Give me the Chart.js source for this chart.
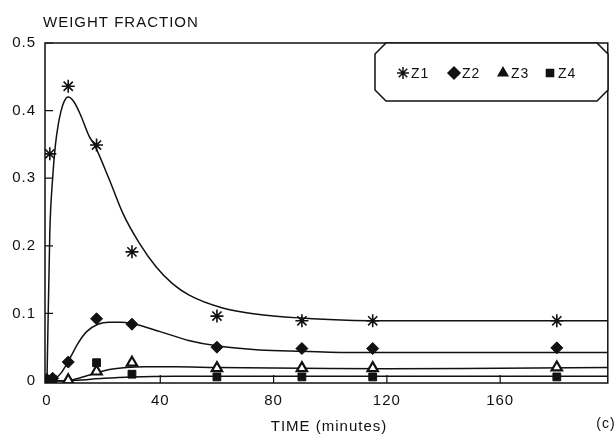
<!DOCTYPE html>
<html>
<head>
<meta charset="utf-8">
<script src="https://cdn.jsdelivr.net/npm/chart.js@4/dist/chart.umd.min.js"></script>
<style>
  html, body { margin: 0; padding: 0; background: #fff; }
  #wrap { width: 616px; height: 435px; position: relative; }
</style>
</head>
<body>
<div id="wrap"><canvas id="chart" width="616" height="435"></canvas></div>
<script>
// measured points
const SERIES = ['Z1', 'Z2', 'Z3', 'Z4']
const z1T = [1, 7.5, 17.5, 30, 60, 90, 115, 180]
const z1Y = [0.336, 0.436, 0.349, 0.191, 0.096, 0.089, 0.089, 0.089]
const z2T = [0, 2, 7.5, 17.5, 30, 60, 90, 115, 180]
const z2Y = [0.002, 0.004, 0.028, 0.092, 0.084, 0.050, 0.048, 0.048, 0.049]
const z3T = [0, 7.5, 17.5, 30, 60, 90, 115, 180]
const z3Y = [0, 0.001, 0.014, 0.027, 0.019, 0.019, 0.019, 0.020]
const z4T = [0, 2, 17.5, 30, 60, 90, 115, 180]
const z4Y = [0, 0.002, 0.027, 0.010, 0.006, 0.006, 0.006, 0.006]

// fitted curves
const fit1T = [0, 1, 2, 3, 4, 5, 6, 7.5, 9.5, 11.6, 15, 16.8, 22.1, 26.8, 32.6, 38.5, 44.3, 50.2, 62, 73.6, 90, 106, 130, 160, 198]
const fit1Y = [0, 0.22, 0.30, 0.35, 0.38, 0.40, 0.413, 0.42, 0.413, 0.396, 0.361, 0.349, 0.297, 0.248, 0.204, 0.169, 0.144, 0.127, 0.108, 0.099, 0.093, 0.09, 0.089, 0.089, 0.089]
const fit2T = [0, 3, 5, 8, 11, 14, 18, 22, 26, 30, 40, 50, 60, 75, 90, 110, 140, 198]
const fit2Y = [0, 0.004, 0.012, 0.033, 0.056, 0.073, 0.084, 0.087, 0.087, 0.085, 0.073, 0.06, 0.052, 0.046, 0.044, 0.042, 0.042, 0.042]
const fit3T = [0, 5, 8, 12, 17.5, 22, 28, 35, 45, 60, 90, 120, 160, 198]
const fit3Y = [0, 0, 0.001, 0.005, 0.012, 0.017, 0.02, 0.021, 0.021, 0.02, 0.019, 0.018, 0.019, 0.02]
const fit4T = [0, 10, 20, 30, 45, 60, 90, 120, 160, 198]
const fit4Y = [0, 0.001, 0.004, 0.006, 0.007, 0.007, 0.007, 0.007, 0.007, 0.007]

const xTicks = [0, 40, 80, 120, 160]
const yTicks = [0, 0.1, 0.2, 0.3, 0.4, 0.5]

const INK = '#111'
const FONT = '"Liberation Sans", Arial, sans-serif'

const pts = (t, y) => t.map((v, i) => ({ x: v, y: y[i] }))

const MARKS = [
  { pointStyle: 'star',    radius: 6.5, backgroundColor: INK, borderWidth: 1.6 },
  { pointStyle: 'rectRot', radius: 6,   backgroundColor: INK, borderWidth: 1 },
  { pointStyle: 'triangle',radius: 6,   backgroundColor: '#fff', borderWidth: 2.2 },
  { pointStyle: 'rect',    radius: 5.5, backgroundColor: INK, borderWidth: 1 },
]
const LEGEND_MARKS = [
  { pointStyle: 'star',    radius: 6,   backgroundColor: INK, borderWidth: 1.5 },
  { pointStyle: 'rectRot', radius: 6,   backgroundColor: INK, borderWidth: 1 },
  { pointStyle: 'triangle',radius: 5.5, backgroundColor: INK, borderWidth: 1.5 },
  { pointStyle: 'rect',    radius: 5,   backgroundColor: INK, borderWidth: 1 },
]

const curve = (t, y) => ({
  type: 'line', data: pts(t, y), borderColor: INK, borderWidth: 1.5,
  pointRadius: 0, cubicInterpolationMode: 'monotone', fill: false, order: 2,
})
const marks = (t, y, k) => ({
  type: 'scatter', label: SERIES[k], data: pts(t, y), showLine: false,
  pointStyle: MARKS[k].pointStyle, pointRadius: MARKS[k].radius,
  pointBackgroundColor: MARKS[k].backgroundColor, pointBorderColor: INK,
  pointBorderWidth: MARKS[k].borderWidth, order: 1,
})

const frame = {
  id: 'frame',
  beforeDraw(chart) { chart.ctx.letterSpacing = '1px' },
  afterDraw(chart) {
    const { ctx, chartArea: a, scales } = chart
    ctx.save()
    ctx.strokeStyle = INK
    ctx.lineWidth = 1.5
    ctx.strokeRect(a.left, a.top, a.right - a.left, a.bottom - a.top)
    // inward ticks
    ctx.lineWidth = 1.2
    ctx.beginPath()
    yTicks.forEach(v => { const y = scales.y.getPixelForValue(v); ctx.moveTo(a.left, y); ctx.lineTo(a.left + 8, y) })
    xTicks.forEach(v => { const x = scales.x.getPixelForValue(v); ctx.moveTo(x, a.bottom); ctx.lineTo(x, a.bottom - 8) })
    ctx.stroke()

    // legend box with clipped corners
    const L = 375, R = 608, T = a.top, B = 101, c = 11
    ctx.beginPath()
    ctx.moveTo(L + c, T); ctx.lineTo(R - c, T); ctx.lineTo(R, T + c); ctx.lineTo(R, B - c)
    ctx.lineTo(R - c, B); ctx.lineTo(L + c, B); ctx.lineTo(L, B - c); ctx.lineTo(L, T + c); ctx.closePath()
    ctx.fillStyle = '#fff'; ctx.fill()
    ctx.lineWidth = 1.5; ctx.stroke()

    const mx = [403, 454, 503, 550]
    const ly = 73
    ctx.letterSpacing = '1px'
    ctx.font = '14px ' + FONT
    ctx.textBaseline = 'middle'
    ctx.textAlign = 'left'
    SERIES.forEach((name, k) => {
      const m = LEGEND_MARKS[k]
      ctx.fillStyle = m.backgroundColor; ctx.strokeStyle = INK
      Chart.helpers.drawPoint(ctx, { pointStyle: m.pointStyle, radius: m.radius, rotation: 0, borderWidth: m.borderWidth }, mx[k], ly)
      ctx.fillStyle = INK
      ctx.fillText(name, mx[k] + 8, ly + 1)
    })

    // titles
    ctx.font = '15px ' + FONT
    ctx.textBaseline = 'alphabetic'
    ctx.fillText('WEIGHT FRACTION', 43, 27)
    ctx.textAlign = 'center'
    ctx.fillText('TIME (minutes)', 329, 431)
    ctx.font = '14px ' + FONT
    ctx.fillText('(c)', 606, 428)
    ctx.restore()
  }
}

Chart.defaults.font.family = FONT
Chart.defaults.font.size = 15
Chart.defaults.color = INK

new Chart(document.getElementById('chart'), {
  type: 'scatter',
  data: {
    datasets: [
      curve(fit1T, fit1Y), curve(fit2T, fit2Y), curve(fit3T, fit3Y), curve(fit4T, fit4Y),
      marks(z1T, z1Y, 0), marks(z2T, z2Y, 1), marks(z3T, z3Y, 2), marks(z4T, z4Y, 3),
    ],
  },
  options: {
    responsive: false,
    animation: false,
    layout: { padding: { top: 43, right: 5, left: 0, bottom: 0 } },
    plugins: { legend: { display: false }, tooltip: { enabled: false } },
    scales: {
      x: {
        type: 'linear', min: -0.7, max: 198,
        grid: { display: false, drawTicks: false }, border: { display: false },
        afterBuildTicks: s => { s.ticks = xTicks.map(v => ({ value: v })) },
        afterFit: s => { s.height = 52 },
        ticks: { padding: 9, maxRotation: 0, autoSkip: false },
      },
      y: {
        type: 'linear', min: -0.003, max: 0.5,
        grid: { display: false, drawTicks: false }, border: { display: false },
        afterBuildTicks: s => { s.ticks = yTicks.map(v => ({ value: v })) },
        afterFit: s => { s.width = 45 },
        ticks: { padding: 9, autoSkip: false, callback: v => v === 0 ? '0' : v.toFixed(1) },
      },
    },
  },
  plugins: [frame],
})
</script>
</body>
</html>
